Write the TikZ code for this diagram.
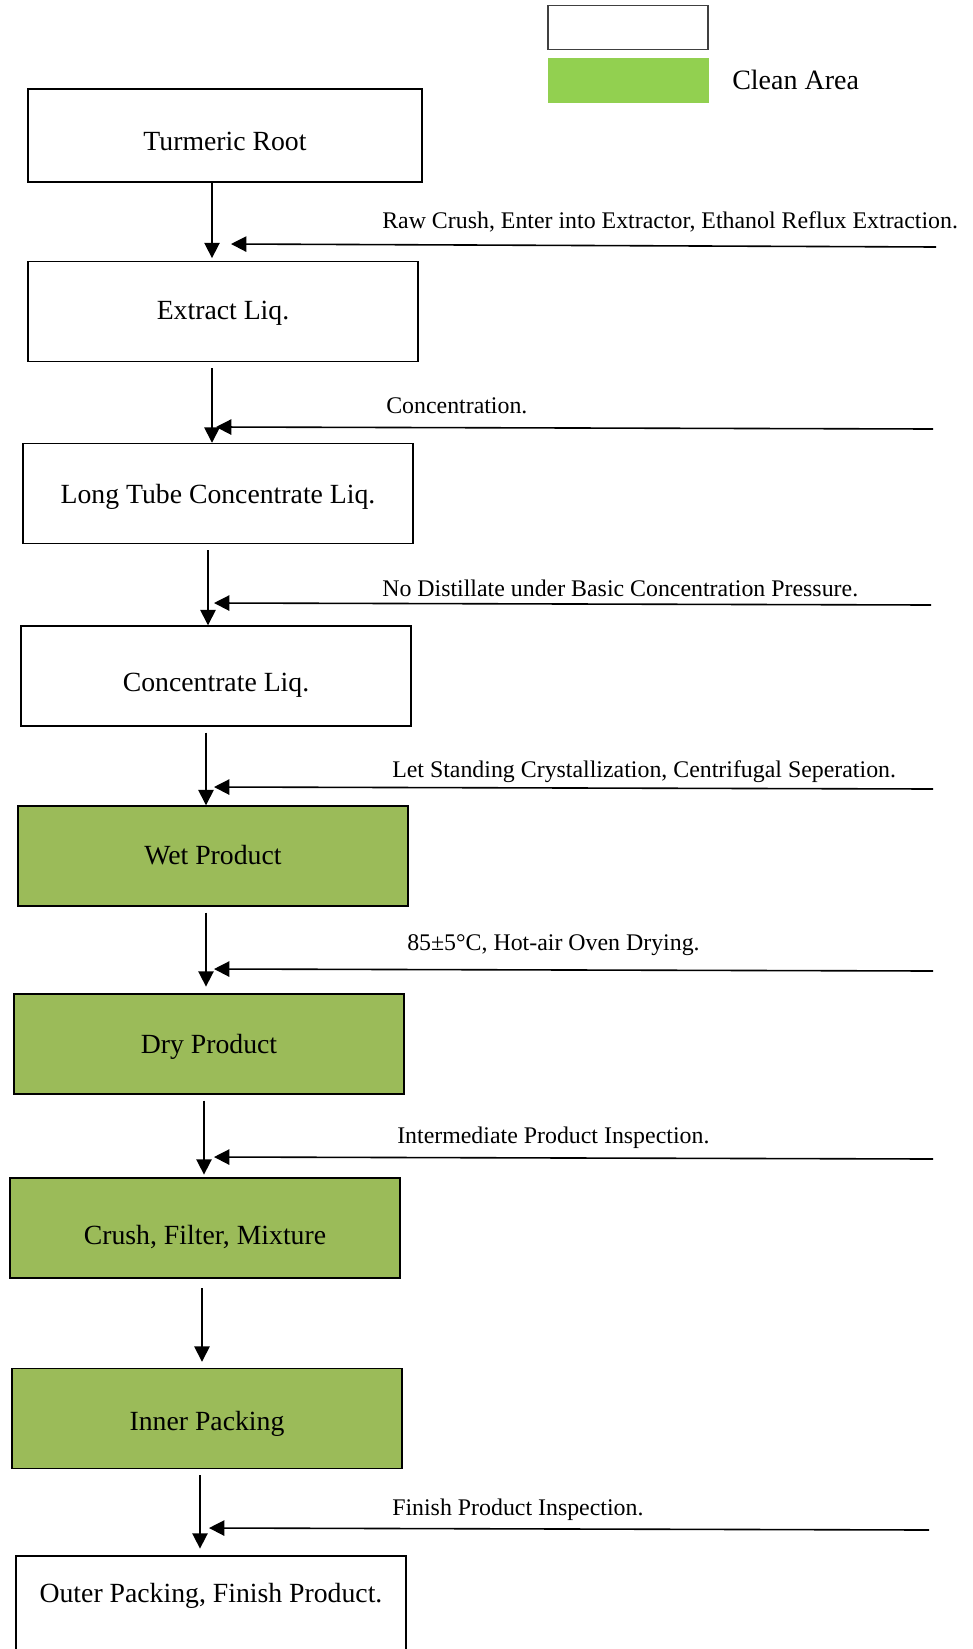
\documentclass[tikz,border=0pt]{standalone}
\usepackage{fontspec}
\setmainfont{Liberation Serif}
\usetikzlibrary{arrows.meta}
\definecolor{cleangreen}{HTML}{9BBB59}
\definecolor{keygreen}{HTML}{92D050}

\begin{document}
\begin{tikzpicture}[
            x=0.75pt, y=-0.75pt,
            proc node/.style={rectangle,draw,line width=1.1pt,fill=white,minimum width=292.5pt,minimum height=75pt,inner sep=0pt,text height=19pt,text depth=0pt,font=\fontsize{20.8}{24}\selectfont},
            clean node/.style={proc node,fill=cleangreen},
            side label/.style={anchor=west,inner sep=0pt,font=\fontsize{17.9}{21}\selectfont},
            flow/.style={line width=1.2pt,-{Triangle[length=11.5pt,width=11.5pt]},shorten <=4.5pt},
            feed/.style={line width=1.2pt,-{Triangle[length=11.5pt,width=11.5pt]}},
            ]

            \useasboundingbox (0,0) rectangle (973,1649);

            % legend
            \node[draw=black!75,line width=0.9pt,minimum width=120pt,minimum height=32.5pt,inner sep=0pt] (k1) at (628,27.5) {};
            \node[fill=keygreen,minimum width=120.5pt,minimum height=33.75pt,inner sep=0pt] (k2) at (628.5,80.5) {};
            \node[anchor=west,inner sep=0pt,font=\fontsize{21}{24}\selectfont] (k3) at (732,80) {Clean Area};

            \node[proc node, minimum width=295.5pt, minimum height=69.75pt, text height=21.8pt] (1) at (225,135.5) {Turmeric Root};
            \node[proc node, text height=12pt] (2) at (223,311.5) {Extract Liq.};
            \node[proc node, text height=14.5pt] (3) at (218,493.5) {Long Tube Concentrate Liq.};
            \node[proc node, text height=22.5pt] (4) at (216,676) {Concentrate Liq.};
            \node[clean node, text height=12.75pt] (5) at (213,856) {Wet Product};
            \node[clean node, text height=14.5pt] (6) at (209,1044) {Dry Product};
            \node[clean node, text height=24.75pt] (7) at (205,1228) {Crush, Filter, Mixture};
            \node[clean node, text height=17.7pt] (8) at (207,1418.5) {Inner Packing};
            \node[proc node, minimum height=94.5pt, text height=15pt, text depth=40.5pt] (9) at (211,1619) {Outer Packing, Finish Product.};

            \draw[flow, shorten <=0pt, shorten >=2pt] (1.south -| 212,0) -- (2.north -| 212,0);
            \draw[flow] (2.south -| 212,0) -- (3.north -| 212,0);
            \draw[flow] (3.south -| 208,0) -- (4.north -| 208,0);
            \draw[flow] (4.south -| 206,0) -- (5.north -| 206,0);
            \draw[flow, shorten >=5pt] (5.south -| 206,0) -- (6.north -| 206,0);
            \draw[flow, shorten >=2pt] (6.south -| 204,0) -- (7.north -| 204,0);
            \draw[flow, shorten <=7pt, shorten >=4.5pt] (7.south -| 202,0) -- (8.north -| 202,0);
            \draw[flow, shorten >=5pt] (8.south -| 200,0) -- (9.north -| 200,0);

            \coordinate (r1) at (936,247);
            \coordinate (e1) at (231,244);
            \coordinate (r2) at (933,429);
            \coordinate (e2) at (216,427);
            \coordinate (r3) at (931,605);
            \coordinate (e3) at (214,603);
            \coordinate (r4) at (933,789);
            \coordinate (e4) at (214,787);
            \coordinate (r5) at (933,971);
            \coordinate (e5) at (214,969);
            \coordinate (r6) at (933,1159);
            \coordinate (e6) at (214,1157);
            \coordinate (r7) at (929,1530);
            \coordinate (e7) at (209,1528);

            \draw[feed] (r1) -- (e1);
            \draw[feed] (r2) -- (e2);
            \draw[feed] (r3) -- (e3);
            \draw[feed] (r4) -- (e4);
            \draw[feed] (r5) -- (e5);
            \draw[feed] (r6) -- (e6);
            \draw[feed] (r7) -- (e7);

            \node[side label] (l1) at (382,222) {Raw Crush, Enter into Extractor, Ethanol Reflux Extraction.};
            \node[side label] (l2) at (386,406) {Concentration.};
            \node[side label] (l3) at (382,588) {No Distillate under Basic Concentration Pressure.};
            \node[side label] (l4) at (392,772) {Let Standing Crystallization, Centrifugal Seperation.};
            \node[side label] (l5) at (407,945) {85±5°C, Hot-air Oven Drying.};
            \node[side label] (l6) at (397,1138) {Intermediate Product Inspection.};
            \node[side label] (l7) at (392,1510) {Finish Product Inspection.};
        \end{tikzpicture}
\end{document}
